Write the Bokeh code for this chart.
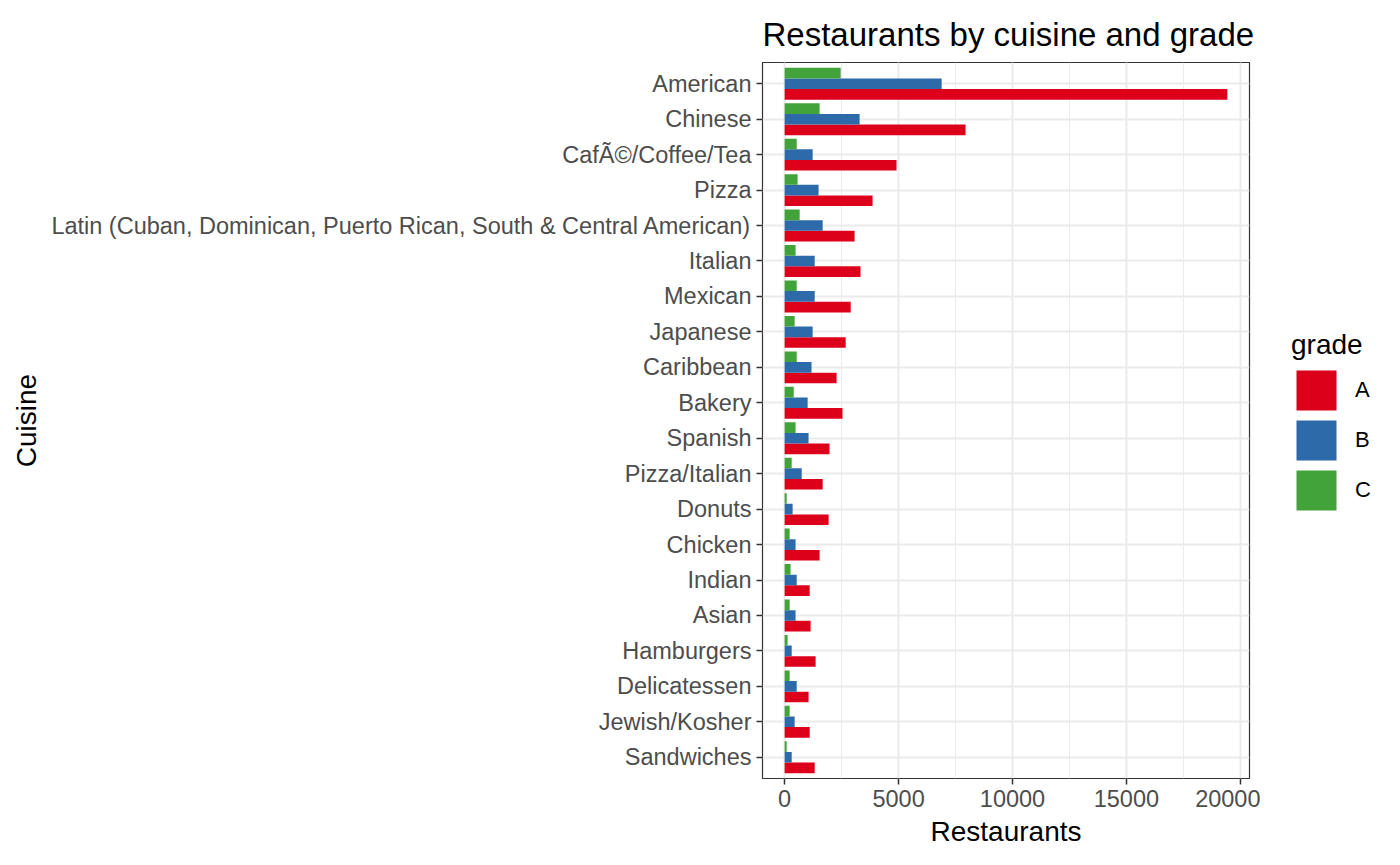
from bokeh.plotting import figure
from bokeh.layouts import row
from bokeh.models import (Range1d, FactorRange, ColumnDataSource, Legend, LegendItem,
                          SingleIntervalTicker)
from bokeh.transform import dodge
from bokeh.embed import file_html
from bokeh.resources import INLINE

# ---- data (top to bottom as in the chart) ----
cuisines = [
    "American", "Chinese", "CafÃ©/Coffee/Tea", "Pizza",
    "Latin (Cuban, Dominican, Puerto Rican, South & Central American)",
    "Italian", "Mexican", "Japanese", "Caribbean", "Bakery", "Spanish",
    "Pizza/Italian", "Donuts", "Chicken", "Indian", "Asian", "Hamburgers",
    "Delicatessen", "Jewish/Kosher", "Sandwiches",
]
grade_a = [19430, 7940, 4910, 3860, 3070, 3330, 2900, 2680, 2280, 2540, 1970,
           1670, 1930, 1535, 1100, 1140, 1360, 1050, 1100, 1320]
grade_b = [6890, 3290, 1230, 1490, 1670, 1320, 1320, 1230, 1180, 1010, 1050,
           750, 350, 480, 530, 480, 310, 530, 440, 310]
grade_c = [2460, 1535, 530, 570, 660, 480, 530, 440, 530, 400, 480,
           310, 90, 220, 260, 220, 130, 220, 220, 90]
grades = ["A", "B", "C"]
colors = ["#DC001A", "#2D6AA9", "#41A33A"]
x_ticks_interval = 5000

FONT = "Liberation Sans"

src = ColumnDataSource(dict(cuisine=cuisines, A=grade_a, B=grade_b, C=grade_c))

xmax = max(grade_a + grade_b + grade_c)
pad = 0.05 * xmax

MAIN_W = 1260
yr = FactorRange(factors=list(reversed(cuisines)), range_padding=0.1,
                 range_padding_units="absolute")
p = figure(
    width=MAIN_W, height=865, output_backend="svg", toolbar_location=None,
    y_range=yr, x_range=Range1d(-pad, xmax + pad),
    min_border_left=762, min_border_right=MAIN_W - 1249, min_border_top=62,
    min_border_bottom=87,
)
p.background_fill_color = "white"
p.border_fill_color = "white"
p.outline_line_color = "#333333"
p.outline_line_width = 1.2

offsets = [-0.3, 0.0, 0.3]
for g, off, col in zip(grades, offsets, colors):
    p.hbar(y=dodge("cuisine", off, range=yr), left=0, right=g, height=0.3,
           source=src, fill_color=col, line_color=None)

ticker = SingleIntervalTicker(interval=x_ticks_interval, num_minor_ticks=2)
p.xaxis.ticker = ticker
p.xgrid.ticker = ticker

p.xgrid.grid_line_color = "#EBEBEB"
p.xgrid.grid_line_width = 2
p.xgrid.minor_grid_line_color = "#EBEBEB"
p.xgrid.minor_grid_line_width = 1
p.ygrid.grid_line_color = "#EBEBEB"
p.ygrid.grid_line_width = 2

p.xaxis.axis_label = "Restaurants"
p.yaxis.axis_label = "Cuisine"
for ax in (p.xaxis[0], p.yaxis[0]):
    ax.axis_line_color = None
    ax.major_tick_line_color = "#333333"
    ax.major_tick_line_width = 1.5
    ax.major_tick_in = 0
    ax.major_tick_out = 6
    ax.minor_tick_line_color = None
    ax.major_label_text_color = "#4D4D4D"
    ax.major_label_text_font = FONT
    ax.major_label_text_font_size = "23.5px"
    ax.major_label_standoff = 5
    ax.axis_label_text_font = FONT
    ax.axis_label_text_font_size = "28px"
    ax.axis_label_text_font_style = "normal"
    ax.axis_label_text_color = "black"
    ax.axis_label_standoff = 6

p.title.text = "Restaurants by cuisine and grade"
p.title.text_font = FONT
p.title.text_font_size = "33px"
p.title.text_font_style = "normal"
p.title.text_color = "black"
p.title.align = "left"
p.title.standoff = 19

# ---- legend panel (separate small figure to the right; its frame is aligned
# with the main panel; the proxy bars fall outside its x range) ----
LEG_W = 1400 - MAIN_W
q = figure(width=LEG_W, height=865, output_backend="svg", toolbar_location=None,
           x_range=Range1d(-2, -1), y_range=yr,
           min_border_left=0, min_border_right=0, min_border_top=62, min_border_bottom=87)
q.axis.visible = False
q.grid.visible = False
q.outline_line_color = None
q.background_fill_color = "white"
q.border_fill_color = "white"

items = []
for g, off, col in zip(grades, offsets, colors):
    r = q.hbar(y=dodge("cuisine", off, range=yr), left=0, right=g, height=0.3,
               source=src, fill_color=col, line_color=None)
    items.append(LegendItem(label=g, renderers=[r]))

legend = Legend(items=items, title="grade", location=(1291 - 1249 - (MAIN_W - 1249), 778 - 515))
legend.border_line_color = None
legend.background_fill_alpha = 0
legend.padding = 0
legend.margin = 0
legend.spacing = 0
legend.glyph_width = 50
legend.glyph_height = 50
legend.label_standoff = 14
legend.label_text_font = FONT
legend.label_text_font_size = "22px"
legend.label_text_color = "black"
legend.title_text_font = FONT
legend.title_text_font_size = "28px"
legend.title_text_font_style = "normal"
legend.title_text_color = "black"
legend.title_standoff = 4
q.add_layout(legend, "center")

layout = row(p, q, spacing=0)
open("out.html", "w").write(file_html(layout, INLINE))
